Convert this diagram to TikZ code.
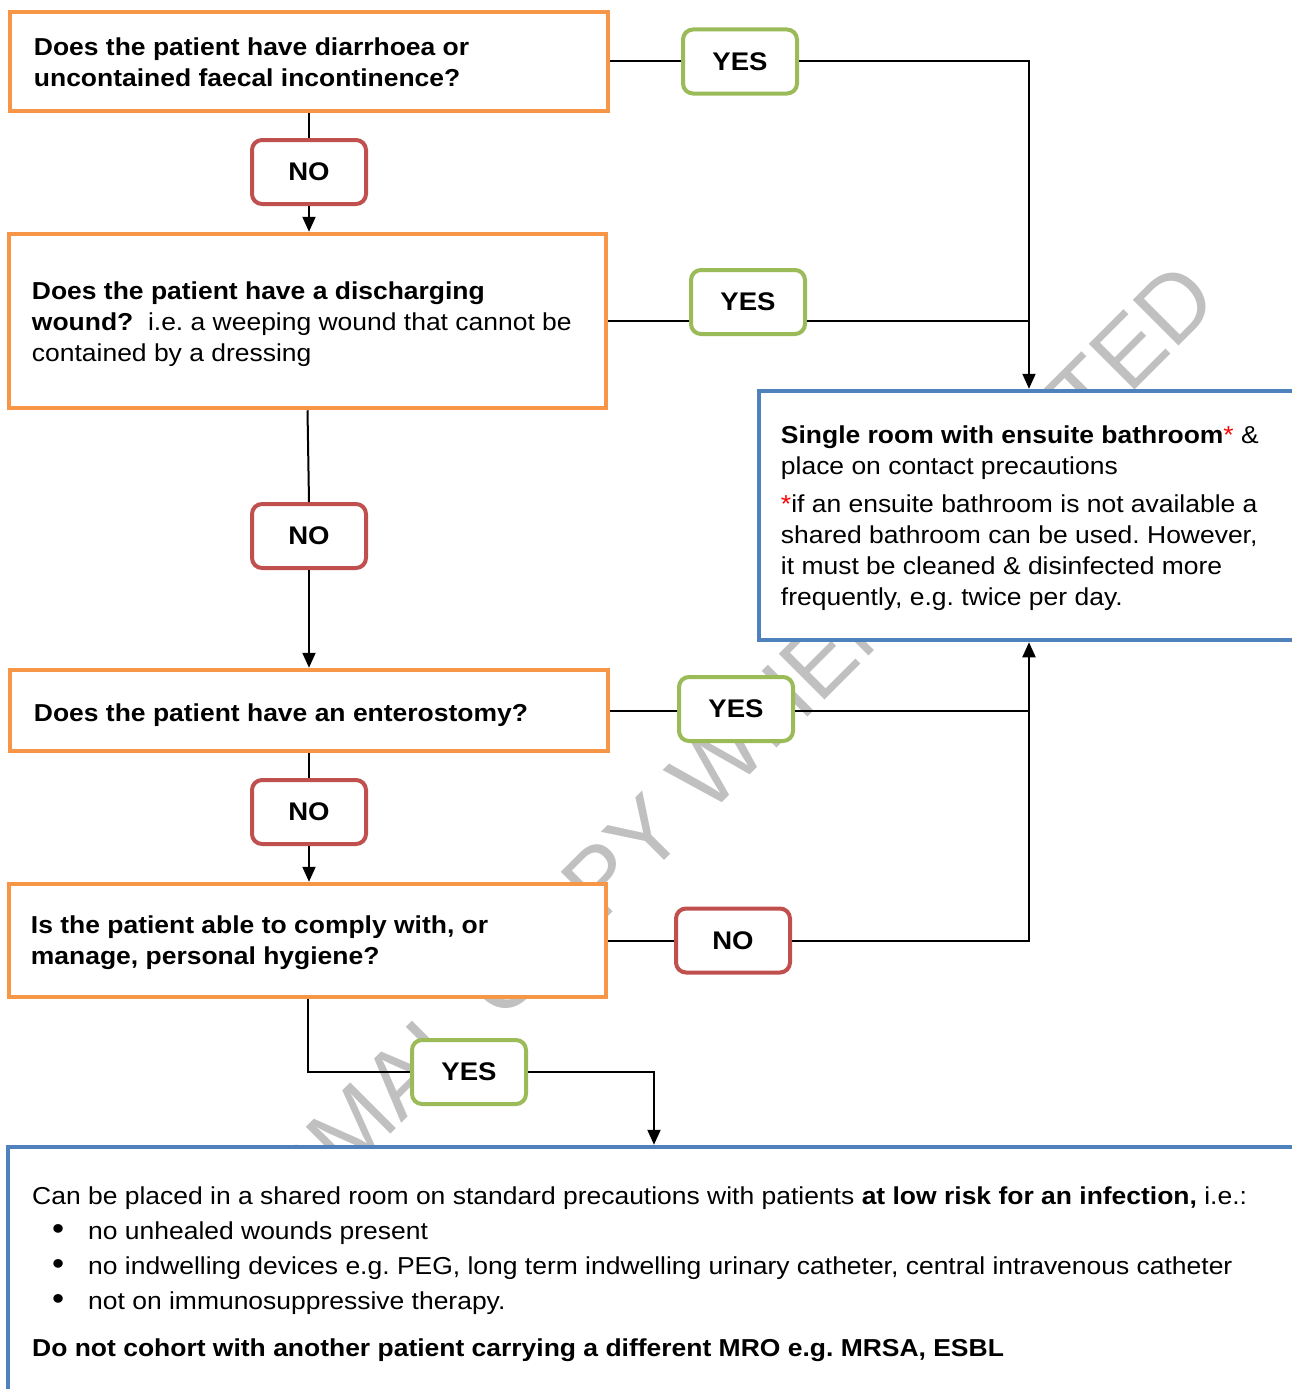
\documentclass[tikz,border=0pt]{standalone}
\usepackage{fontspec}
\setmainfont{Liberation Sans}[FakeStretch=1.08]
\newfontfamily\wmfont{Liberation Sans}
\usetikzlibrary{arrows.meta,calc}
\definecolor{qorange}{HTML}{F79646}
\definecolor{nored}{HTML}{C0504D}
\definecolor{yesgreen}{HTML}{9BBB59}
\definecolor{resblue}{HTML}{4F81BD}
\definecolor{wmgray}{HTML}{C0C0C0}
\tikzset{
  qbox/.style={draw=qorange, line width=4.5pt, fill=white, inner sep=0pt},
  rbox/.style={draw=resblue, line width=4.5pt, fill=white, inner sep=0pt},
  badge/.style={line width=4pt, fill=white, rounded corners=10pt, minimum width=114pt, minimum height=64pt, inner sep=0pt, font=\fontsize{25.5}{30}\selectfont\bfseries},
  yesbadge/.style={badge, draw=yesgreen},
  nobadge/.style={badge, draw=nored},
  qtext/.style={align=left, inner sep=0pt, font=\fontsize{24.5}{31}\selectfont},
  conn/.style={line width=2pt, draw=black},
  arr/.style={conn, -{Triangle[width=13pt,length=15pt]}},
}
\newcommand{\bul}{\hspace*{20pt}\makebox[36pt][l]{\fontsize{32}{31}\selectfont •}}
\frenchspacing
\begin{document}
\begin{tikzpicture}[x=1pt,y=-1pt]
\useasboundingbox (0,0) rectangle (1292,1389);
% watermark
\node[rotate=45, anchor=base east, inner sep=0pt, text=wmgray, font=\wmfont\fontsize{94}{94}\selectfont] (wm) at (1222,303) {INFORMAL COPY WHEN PRINTED};
% question boxes
\node[qbox, minimum width=598pt, minimum height=99pt] (q1) at (309,61.5) {};
\node[qbox, minimum width=597pt, minimum height=174pt] (q2) at (307.5,321) {};
\node[qbox, minimum width=598pt, minimum height=81pt] (q3) at (309,710.5) {};
\node[qbox, minimum width=597pt, minimum height=113pt] (q4) at (307.5,940.5) {};
\node[rbox, minimum width=540pt, minimum height=249pt] (single) at (1029,515.5) {};
\node[rbox, minimum width=1292pt, minimum height=262pt] (shared) at (654,1278) {};
% texts
\node[qtext, anchor=west] (q1t) at ($(q1.west)+(26,1)$) {\textbf{Does the patient have diarrhoea or}\\\textbf{uncontained faecal incontinence?}};
\node[qtext, anchor=west] (q2t) at ($(q2.west)+(25,3)$) {\textbf{Does the patient have a discharging}\\\textbf{wound?}\ \ i.e. a weeping wound that cannot be\\contained by a dressing};
\node[qtext, anchor=west] (q3t) at ($(q3.west)+(26,5)$) {\textbf{Does the patient have an enterostomy?}};
\node[qtext, anchor=west] (q4t) at ($(q4.west)+(24,2)$) {\textbf{Is the patient able to comply with, or}\\\textbf{manage, personal hygiene?}};
\node[qtext, anchor=west] (singlet) at ($(single.west)+(24,3)$) {\textbf{Single room with ensuite bathroom}\textcolor{red}{*} \&\\place on contact precautions\\[7pt]\textcolor{red}{*}if an ensuite bathroom is not available a\\shared bathroom can be used. However,\\it must be cleaned \& disinfected more\\frequently, e.g. twice per day.};
\node[qtext, anchor=north west] (sharedt) at (32,1186.5) {Can be placed in a shared room on standard precautions with patients \textbf{at low risk for an infection,} i.e.:\\[4pt]
\bul no unhealed wounds present\\[4pt]
\bul no indwelling devices e.g. PEG, long term indwelling urinary catheter, central intravenous catheter\\[4pt]
\bul not on immunosuppressive therapy.\\[16pt]
\textbf{Do not cohort with another patient carrying a different MRO e.g. MRSA, ESBL}};
% badges
\node[yesbadge] (y1) at (740,61.5) {YES};
\node[nobadge] (n1) at (309,172) {NO};
\node[yesbadge] (y2) at (748,302) {YES};
\node[nobadge] (n2) at (309,536) {NO};
\node[yesbadge] (y3) at (736,709) {YES};
\node[nobadge] (n3) at (309,812) {NO};
\node[nobadge] (n4) at (733,940.5) {NO};
\node[yesbadge] (y5) at (469,1072) {YES};
% connectors
\draw[conn] (q1.east) -- (y1.west);
\draw[arr] (y1.east) -| (single.north);
\draw[conn] (q2.east) -- (q2.east -| y2.west);
\draw[conn] (q2.east -| y2.east) -- (q2.east -| single.north);
\draw[conn] (q3.east) -- (q3.east -| y3.west);
\draw[conn] (q3.east -| y3.east) -- (q3.east -| single.south);
\draw[conn] (q4.east) -- (n4.west);
\draw[arr] (n4.east) -| (single.south);
\draw[conn] (q1.south -| n1.north) -- (n1.north);
\draw[arr] (n1.south) -- (n1.south |- q2.north);
\draw[conn] (q2.south) -- (n2.north);
\draw[arr] (n2.south) -- (n2.south |- q3.north);
\draw[conn] (q3.south -| n3.north) -- (n3.north);
\draw[arr] (n3.south) -- (n3.south |- q4.north);
\draw[conn] (q4.south) |- (y5.west);
\draw[arr] (y5.east) -| (shared.north);
\end{tikzpicture}
\end{document}
